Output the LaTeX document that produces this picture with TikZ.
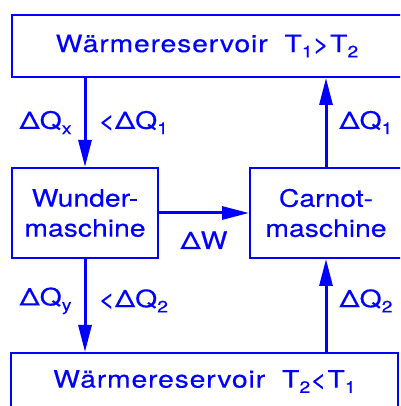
\documentclass[tikz,border=0pt]{standalone}
\usepackage{fontspec}
\setmainfont[FakeStretch=1.18, FakeBold=0.3]{TeX Gyre Heros}
\usetikzlibrary{positioning, arrows.meta}
\newcommand\idx[1]{\raisebox{-0.22em}{\fontsize{16.5}{16.5}\selectfont #1}}
\tikzset{
  reservoir/.style={rectangle, draw=blue, line width=2pt, minimum height=58pt, inner sep=0pt, text=blue, font=\fontsize{24}{28}\selectfont\addfontfeature{LetterSpace=3.5}},
  engine/.style={rectangle, draw=blue, line width=2pt, minimum height=90pt, align=center, inner sep=0pt, text=blue, font=\fontsize{24}{30}\selectfont},
  flow/.style={text=blue, inner sep=12pt, font=\fontsize{24}{28}\selectfont},
  arrow/.style={draw=blue, line width=3pt, -{Triangle[length=27pt, width=13pt]}}
}

\begin{document}
\begin{tikzpicture}[x=1pt, y=1pt]
    \useasboundingbox (0,0) rectangle (400,406);
    \clip (0,0) rectangle (400,406);

    % === Waermereservoire ===
    \node (hot) [reservoir, minimum width=390pt, minimum height=62pt] at (207,360) {Wärmereservoir\hspace{17pt}T\idx{1}>T\idx{2}};
    \node (cold) [reservoir, minimum width=387pt, minimum height=57pt] at (204.5,24.5) {Wärmereservoir\hspace{17pt}T\idx{2}<T\idx{1}};

    % === Maschinen ===
    \node (wunder) [engine, minimum width=146pt] at (85,193) {Wunder-\\maschine};
    \node (carnot) [engine, minimum width=152pt] at (326,193) {Carnot-\\maschine};

    \draw [arrow] (hot.south -| wunder.north) -- node[flow, left]{ΔQ\idx{x}} node[flow, right]{<ΔQ\idx{1}} (wunder.north);
    \draw [arrow] (wunder.south) -- node[flow, left, pos=0.45]{ΔQ\idx{y}} node[flow, right, pos=0.45]{<ΔQ\idx{2}} (wunder.south |- cold.north);
    \draw [arrow] (wunder.east) -- node[flow, below, yshift=-5pt]{ΔW} (carnot.west);
    \draw [arrow] (carnot.north) -- node[flow, right]{ΔQ\idx{1}} (carnot.north |- hot.south);
    \draw [arrow] (carnot.south |- cold.north) -- node[flow, right, pos=0.55]{ΔQ\idx{2}} (carnot.south);

\end{tikzpicture}
\end{document}
